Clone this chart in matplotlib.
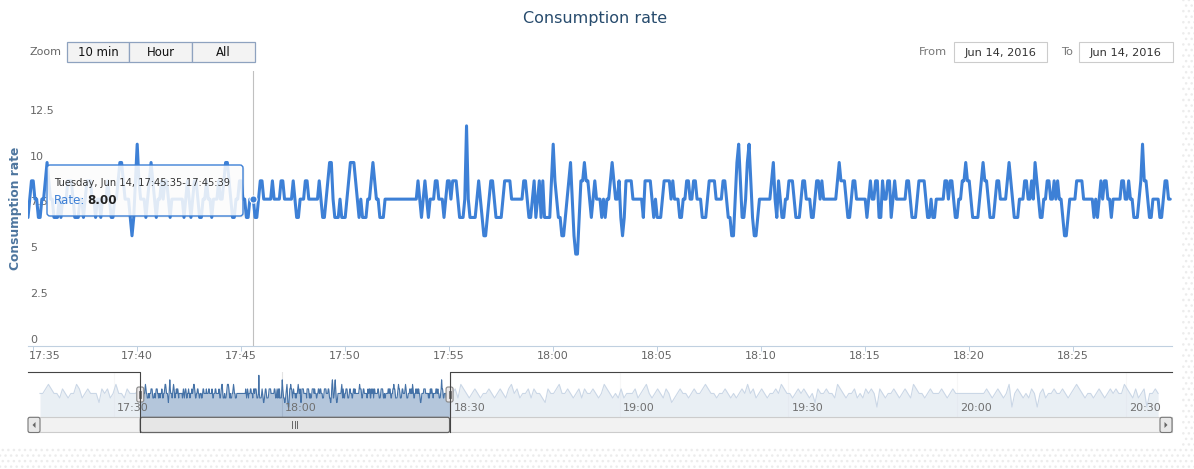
#!/usr/bin/env python3
import matplotlib
matplotlib.use("Agg")
import matplotlib.pyplot as plt
from matplotlib.patches import Rectangle, FancyBboxPatch, Polygon
from matplotlib.transforms import offset_copy
import numpy as np

# ---- data ---------------------------------------------------------------
# consumption rate, one sample every 5 s starting 17:34:45
# written as hex digits (a=10, b=11, c=12), 15 samples per chunk
rate_a = ["78998877889a988", "777878889998777", "887899988788788", "89877889aa98887",
          "679b9888789a987", "889899878888888", "789878998778898", "878889889aa9877",
          "889988778887789", "988888988889988", "888987788899888"]
rate_b = ["888987789aa8777", "877789aaa987877", "7889a9887778888", "888888888888888",
          "987898788899888", "7899899987778c8", "777789876678998", "777789999888888",
          "899877897897977", "779b987766789a8", "655799a99878988"]
rate_c = ["8787889a9889767", "999988888879999", "878777899998988", "877889988998887",
          "778999988889987", "7668ab9778ab976", "6788888889a8798", "778899987778998",
          "887789989888888", "889a99987789988", "888878988997798"]
rate_d = ["899789888888998", "777899998778778", "888899899877889", "9a998777789a998",
          "77789988889a987", "77888998898a987", "788998898988766", "788889999888888",
          "787898998878888", "8998898877789b9", "987788887789988"]
series_start = "17:34:45"
step_s = 5

# navigator overview outside the zoomed window, one value per 30 s (same digit code)
nav_before_start = "17:16:55"
nav_before = ["889a98879878", "8a9789888698", "978a88798889"]
nav_after_start = "18:30:15"
nav_after = ["897a98789878", "898789879a89", "788979887698", "89a889878979",
             "889878a98787", "978889789a87", "898798678988", "789889a98878",
             "898787898a89", "789878898a98", "878989878698", "89887a987889",
             "787989859878", "89878987a988", "789888987898", "888888888898",
             "789878a58987", "879858978898", "898789a98788", "78987898988a",
             "987978958898"]
nav_step_s = 30

main_ticks = ["17:35", "17:40", "17:45", "17:50", "17:55", "18:00",
              "18:05", "18:10", "18:15", "18:20", "18:25"]
nav_ticks = ["17:30", "18:00", "18:30", "19:00", "19:30", "20:00", "20:30"]
y_ticks = [0, 2.5, 5, 7.5, 10, 12.5]
y_tick_labels = ["0", "2.5", "5", "7.5", "10", "12.5"]
y_max = 15
nav_ylim = (2.75, 12.66)

view_from, view_to = "17:34:45", "18:29:45"
nav_from, nav_to = "17:14:47", "20:38:13"

hover_time, hover_value = "17:45:35", 8.00
tooltip_head = "Tuesday, Jun 14, 17:45:35-17:45:39"
zoom_buttons = ["10 min", "Hour", "All"]
date_from, date_to = "Jun 14, 2016", "Jun 14, 2016"


def to_min(s):
    p = [int(v) for v in s.split(":")] + [0]
    return (p[0] - 17) * 60 + p[1] + p[2] / 60.0


def decode(chunks):
    return np.array([int(c, 16) for chunk in chunks for c in chunk], dtype=float)


values = np.concatenate([decode(p) for p in (rate_a, rate_b, rate_c, rate_d)])
times = to_min(series_start) + np.arange(len(values)) * step_s / 60.0

nb = decode(nav_before)
na = decode(nav_after)
nb_t = to_min(nav_before_start) + np.arange(len(nb)) * nav_step_s / 60.0
na_t = to_min(nav_after_start) + np.arange(len(na)) * nav_step_s / 60.0
nav_t = np.concatenate([nb_t, times, na_t])
nav_v = np.concatenate([nb, values, na])

# ---- figure ---------------------------------------------------------------
W, H = 1194, 469
LINE = "#3d80d6"
plt.rcParams["font.family"] = ["DejaVu Sans"]

fig = plt.figure(figsize=(W / 100, H / 100), dpi=100)
fig.patch.set_facecolor("white")


def box(x0, y0, x1, y1):
    return [x0 / W, 1 - y1 / H, (x1 - x0) / W, (y1 - y0) / H]


PL, PR, PT, PB = 28, 1172, 70.9, 345.7
ax = fig.add_axes(box(PL, PT, PR, PB))
ax.set_xlim(to_min(view_from), to_min(view_to))
ax.set_ylim(0, y_max)
ax.plot(times, values, color=LINE, lw=2.2, solid_joinstyle="round",
        solid_capstyle="round", zorder=3)
ax.axvline(to_min(hover_time), color="#c0c0c0", lw=0.8, zorder=2)
ax.plot([to_min(hover_time)], [hover_value], "o", ms=5.2, mfc=LINE,
        mec="white", mew=0.8, zorder=4)

for s in ["top", "right", "left"]:
    ax.spines[s].set_visible(False)
ax.spines["bottom"].set_color("#c0d0e0")
ax.spines["bottom"].set_linewidth(0.8)
ax.set_yticks([])
ax.set_xticks([to_min(t) for t in main_ticks])
ax.set_xticklabels([])
ax.tick_params(axis="x", length=3.6, width=0.72, color="#c0d0e0")

xtr = offset_copy(ax.get_xaxis_transform(), fig=fig, x=0, y=-10, units="dots")
for i, t in enumerate(main_ticks):
    if i == 0:
        ax.text(ax.get_xlim()[0], 0, t, transform=offset_copy(
            ax.get_xaxis_transform(), fig=fig, x=1, y=-10, units="dots"),
            ha="left", va="center", fontsize=8, color="#666666")
    else:
        ax.text(to_min(t), 0, t, transform=xtr, ha="center", va="center",
                fontsize=8, color="#666666")

ytr = offset_copy(ax.get_yaxis_transform(), fig=fig, x=2, y=3, units="dots")
for v, lab in zip(y_ticks, y_tick_labels):
    ax.text(0, v, lab, transform=ytr, ha="left", va="baseline",
            fontsize=8, color="#666666", zorder=1)

fig.text(15.5 / W, 1 - 208 / H, "Consumption rate", rotation=90, ha="center",
         va="center", fontsize=8.8, color="#4d759e", fontweight="bold")
fig.text(595 / W, 1 - 18 / H, "Consumption rate", ha="center", va="center",
         fontsize=11.5, color="#274b6d")

# ---- navigator --------------------------------------------------------------
NT, NB = 372.3, 417.3
nav = fig.add_axes(box(PL, NT, PR, NB))
nav.set_xlim(to_min(nav_from), to_min(nav_to))
nav.set_ylim(*nav_ylim)
nav.axis("off")
for t in nav_ticks:
    nav.axvline(to_min(t), color="#e3e3e3", lw=0.8, zorder=0)
    nav.text(to_min(t), 0, t, transform=offset_copy(
        nav.get_xaxis_transform(), fig=fig, x=3, y=9, units="dots"),
        ha="left", va="center", fontsize=8, color="#707070", zorder=6)
nav.fill_between(nav_t, nav_v, nav_ylim[0], color="#4572a7", alpha=0.4, lw=0, zorder=2)
nav.plot(nav_t, nav_v, color="#4572a7", lw=0.8, zorder=3)
x0, x1 = nav.get_xlim()
for a, b in [(x0, to_min(view_from)), (to_min(view_to), x1)]:
    nav.add_patch(Rectangle((a, 0), b - a, 1, transform=nav.get_xaxis_transform(),
                            fc="white", alpha=0.72, lw=0, zorder=4))

# ---- UI overlay (pixel coordinates) -----------------------------------------
ui = fig.add_axes([0, 0, 1, 1], zorder=10)
ui.set_xlim(0, W)
ui.set_ylim(H, 0)
ui.axis("off")
ui.patch.set_alpha(0)

# faint dotted page background at the right and bottom edges
plt.rcParams["hatch.color"] = "#ececec"
for r in [(1182, 0, 12, H), (0, 447, 1182, H - 447)]:
    ui.add_patch(Rectangle(r[:2], r[2], r[3], fc="white", hatch="...", lw=0, zorder=0))

# range selector
ui.text(30, 52, "Zoom", ha="left", va="center", fontsize=8, color="#666666")
bx = [67, 129, 192, 255]
for i, lab in enumerate(zoom_buttons):
    ui.add_patch(Rectangle((bx[i], 42), bx[i + 1] - bx[i], 20, fc="#f3f3f3",
                           ec="#8ea2bf", lw=0.9))
    ui.text((bx[i] + bx[i + 1]) / 2, 52.5, lab, ha="center", va="center",
            fontsize=8.4, color="#111111")

ui.text(947, 52, "From", ha="right", va="center", fontsize=8.2, color="#777777")
ui.add_patch(Rectangle((954, 42), 93, 20, fc="white", ec="#cccccc", lw=0.8))
ui.text(1000.5, 52.5, date_from, ha="center", va="center", fontsize=8.2, color="#333333")
ui.text(1073, 52, "To", ha="right", va="center", fontsize=8.2, color="#777777")
ui.add_patch(Rectangle((1079, 42), 94, 20, fc="white", ec="#cccccc", lw=0.8))
ui.text(1126, 52.5, date_to, ha="center", va="center", fontsize=8.2, color="#333333")

# tooltip
ui.add_patch(FancyBboxPatch((48.5, 166.5), 196, 51,
                            boxstyle="round,pad=0,rounding_size=3",
                            fc="black", alpha=0.06, lw=0))
ui.add_patch(FancyBboxPatch((47, 165), 196, 51,
                            boxstyle="round,pad=0,rounding_size=3",
                            fc=(1, 1, 1, 0.85), ec=LINE, lw=1))
ui.text(54, 183.5, tooltip_head, ha="left", va="center", fontsize=7.1, color="#333333")
ui.text(54, 201, "Rate:", ha="left", va="center", fontsize=8.6, color=LINE)
ui.text(87, 201, f"{hover_value:.2f}", ha="left", va="center", fontsize=8.6,
        color="#222222", fontweight="bold")

# navigator outline and handles
h1 = PL + (to_min(view_from) - x0) / (x1 - x0) * (PR - PL)
h2 = PL + (to_min(view_to) - x0) / (x1 - x0) * (PR - PL)
SB_T, SB_B = 417.3, 432.5
ui.plot([PL, h1, h1], [NT, NT, SB_B], color="#444444", lw=0.8)
ui.plot([h2, h2, PR], [SB_B, NT, NT], color="#444444", lw=0.8)

# scrollbar
ui.add_patch(Rectangle((PL, SB_T), PR - PL, SB_B - SB_T, fc="#f2f2f2",
                       ec="#cccccc", lw=0.8))
for bx0 in (PL, PR - 12):
    ui.add_patch(FancyBboxPatch((bx0, SB_T), 12, SB_B - SB_T,
                                boxstyle="round,pad=0,rounding_size=2",
                                fc="#e8e8e8", ec="#777777", lw=0.8))
ui.add_patch(Polygon([[35.5, 422], [35.5, 428], [32.5, 425]], fc="#666666", lw=0))
ui.add_patch(Polygon([[PR - 7.5, 422], [PR - 7.5, 428], [PR - 4.5, 425]],
                     fc="#666666", lw=0))
ui.add_patch(FancyBboxPatch((h1, SB_T), h2 - h1, SB_B - SB_T,
                            boxstyle="round,pad=0,rounding_size=2",
                            fc="#e6e6e6", ec="#666666", lw=0.9))
mid = (h1 + h2) / 2
for dx in (-2.5, 0, 2.5):
    ui.plot([mid + dx, mid + dx], [421.5, 428.5], color="#666666", lw=0.7)

for hx in (h1, h2):
    ui.add_patch(FancyBboxPatch((hx - 3.5, 387), 7, 15,
                                boxstyle="round,pad=0,rounding_size=2",
                                fc="#ebe7e8", ec="#888888", lw=0.8))
    for dx in (-1, 1):
        ui.plot([hx + dx, hx + dx], [391, 398], color="#666666", lw=0.6)

fig.savefig("out.png", dpi=100, facecolor="white")
